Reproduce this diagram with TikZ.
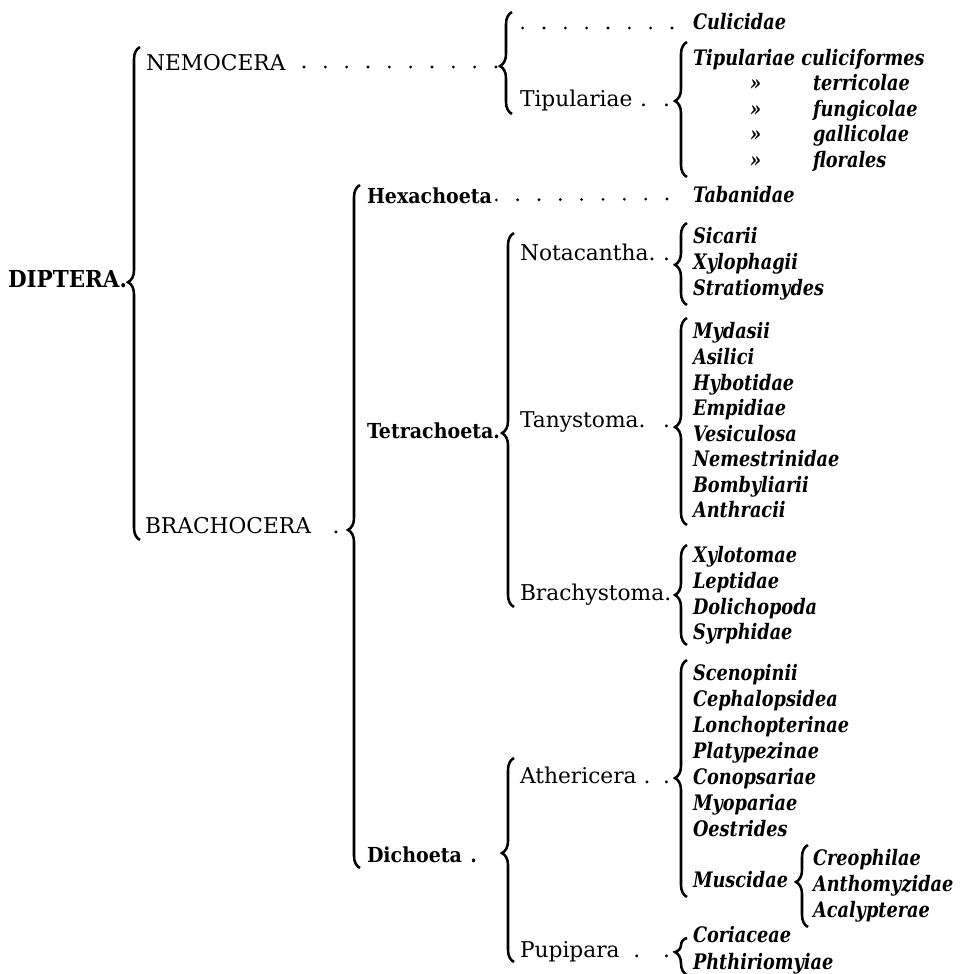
\documentclass[tikz,border=0pt]{standalone}
\usepackage{fontspec}
\setmainfont{DejaVu Serif}
\newfontfamily\taxonfont{DejaVu Serif}[FakeStretch=0.83]
\newfontfamily\orderfont{DejaVu Serif}[FakeStretch=0.92]
\usetikzlibrary{decorations.pathreplacing}

\begin{document}
\begin{tikzpicture}[%
      x=0.75pt, y=-0.75pt,
      every node/.style={anchor=base west, inner sep=0pt, outer sep=0pt},
      root/.style={font={\orderfont\fontsize{17.5}{18}\selectfont\bfseries}},
      order/.style={font={\orderfont\fontsize{15.5}{18}\selectfont\bfseries}},
      group/.style={font={\fontsize{16.3}{18}\selectfont}},
      taxon/.style={font={\taxonfont\fontsize{16}{18}\selectfont\bfseries\itshape}},
      curly/.style={decorate, line width=1.9pt,
                    decoration={brace, amplitude=9pt, aspect=#1}},
      leader/.style={line width=2.3pt, line cap=round,
                     dash pattern=on 0pt off 16pt}
    ]
    \useasboundingbox (0,0) rectangle (961,974);

    % orders and sub-orders
    \node [root] (dipt) at (8,287) {DIPTERA.};
    \node [group] (nemo) at (146,70) {NEMOCERA};
    \node [group] (brac) at (145,533) {\makebox[146pt][l]{BRACHOCERA\hfill.}};
    \node [order] (hexa) at (367,203) {Hexachoeta};
    \node [order] (tetr) at (367,438) {Tetrachoeta.};
    \node [order] (dich) at (367,862) {\makebox[82.5pt][l]{Dichoeta\hfill.}};

    % families
    \node [group] (tipu) at (520,107) {\makebox[112.5pt][l]{Tipulariae\hfill.\hspace{12pt}.}};
    \node [group] (nota) at (520,260) {\makebox[112.5pt][l]{Notacantha.\hfill.}};
    \node [group] (tany) at (520,427) {\makebox[112.5pt][l]{Tanystoma.\hfill.}};
    \node [group] (bchy) at (520,600) {Brachystoma.};
    \node [group] (athe) at (520,783) {\makebox[112.5pt][l]{Athericera\ .\hfill.}};
    \node [group] (pupi) at (520,957) {\makebox[112.5pt][l]{Pupipara\ \ .\hfill.}};

    % tribes
    \node [taxon] (culi) at (693,30) {Culicidae};
    \node [taxon] (tcul) at (693,65) {Tipulariae culiciformes};
    \foreach \name [count=\i] in {terricolae,fungicolae,gallicolae,florales} {
      \node [taxon] (ditto-\i) at (750,65+25.5*\i) {»};
      \node [taxon] (tipu-\i) at (813,65+25.5*\i) {\name};
    }
    \node [taxon] (taba) at (693,202) {Tabanidae};
    \foreach \name [count=\i] in {Sicarii,Xylophagii,Stratiomydes}
      \node [taxon] (nota-\i) at (693,217+26*\i) {\name};
    \foreach \name [count=\i] in {Mydasii,Asilici,Hybotidae,Empidiae,Vesiculosa,
                                  Nemestrinidae,Bombyliarii,Anthracii}
      \node [taxon] (tany-\i) at (693,313.4+25.57*\i) {\name};
    \foreach \name [count=\i] in {Xylotomae,Leptidae,Dolichopoda,Syrphidae}
      \node [taxon] (bchy-\i) at (693,537.3+25.67*\i) {\name};
    \foreach \name [count=\i] in {Scenopinii,Cephalopsidea,Lonchopterinae,
                                  Platypezinae,Conopsariae,Myopariae,Oestrides}
      \node [taxon] (athe-\i) at (693,654+26*\i) {\name};
    \node [taxon] (musc) at (693,887) {Muscidae};
    \foreach \name [count=\i] in {Creophilae,Anthomyzidae,Acalypterae}
      \node [taxon] (musc-\i) at (813,839+26*\i) {\name};
    \foreach \name [count=\i] in {Coriaceae,Phthiriomyiae}
      \node [taxon] (pupi-\i) at (693,916+26.5*\i) {\name};

    % braces
    \coordinate (dipt-t) at (140,47);  \coordinate (dipt-b) at (140,540);
    \coordinate (nemo-t) at (512,12);  \coordinate (nemo-b) at (512,114);
    \coordinate (tipu-t) at (687,42);  \coordinate (tipu-b) at (687,177);
    \coordinate (brac-t) at (360,185); \coordinate (brac-b) at (360,868);
    \coordinate (tetr-t) at (514,233); \coordinate (tetr-b) at (514,607);
    \coordinate (nota-t) at (687,223); \coordinate (nota-b) at (687,305);
    \coordinate (tany-t) at (687,318); \coordinate (tany-b) at (687,525);
    \coordinate (bchy-t) at (687,545); \coordinate (bchy-b) at (687,645);
    \coordinate (dich-t) at (514,758); \coordinate (dich-b) at (514,962);
    \coordinate (athe-t) at (687,660); \coordinate (athe-b) at (687,897);
    \coordinate (musc-t) at (808,845); \coordinate (musc-b) at (808,927);
    \coordinate (pupi-t) at (687,938); \coordinate (pupi-b) at (687,975);
    \draw [curly=.523] (dipt-b) -- (dipt-t);
    \draw [curly=.47]  (nemo-b) -- (nemo-t);
    \draw [curly=.563] (tipu-b) -- (tipu-t);
    \draw [curly=.495] (brac-b) -- (brac-t);
    \draw [curly=.465] (tetr-b) -- (tetr-t);
    \draw [curly=.49]  (nota-b) -- (nota-t);
    \draw [curly=.473] (tany-b) -- (tany-t);
    \draw [curly=.5]   (bchy-b) -- (bchy-t);
    \draw [curly=.534] (dich-b) -- (dich-t);
    \draw [curly=.502] (athe-b) -- (athe-t);
    \draw [curly=.549] (musc-b) -- (musc-t);
    \draw [curly=.62]  (pupi-b) -- (pupi-t);

    % dotted leaders
    \coordinate (nemo-tip) at (496,67);
    \coordinate (culi-tail) at (522,28);
    \draw [leader] (nemo-tip) -- ([shift={(10,-3)}]nemo.base east);
    \draw [leader] ([shift={(-21,-2)}]culi.base west) -- (culi-tail);
    \draw [leader] ([shift={(-26,-3)}]taba.base west) -- ([shift={(0,-3)}]hexa.base east);
\end{tikzpicture}
\end{document}
